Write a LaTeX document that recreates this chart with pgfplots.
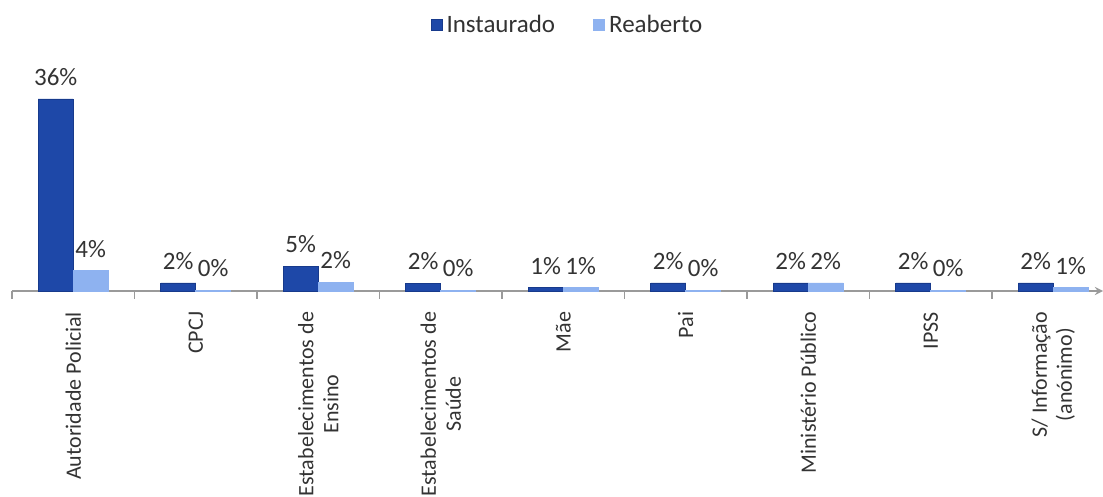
\documentclass[border=0pt]{standalone}
\usepackage{pgfplots}
\pgfplotsset{compat=1.18}
\usepackage{fontspec}
\setmainfont{Carlito}

\definecolor{inst}{HTML}{1E48A8}
\definecolor{instedge}{HTML}{173A8C}
\definecolor{reab}{HTML}{8EB2F0}
\definecolor{txt}{HTML}{333333}
\definecolor{axgray}{HTML}{9A9A9A}

\begin{document}
\begin{tikzpicture}
\begin{axis}[
  scale only axis,
  width=545.5pt, height=106.7pt,
  xmin=-0.5, xmax=8.406,
  ymin=0, ymax=40,
  axis x line=bottom,
  axis y line=none,
  x axis line style={axgray, line width=0.8pt},
  xtick={0,...,8},
  major x tick style={draw=none},
  minor xtick={-0.5,0.5,...,8.5},
  minor x tick style={axgray, line width=0.8pt},
  minor tick length=4pt,
  tick align=outside,
  xticklabels={
    Autoridade Policial,
    CPCJ,
    Estabelecimentos de\\Ensino,
    Estabelecimentos de\\Saúde,
    Mãe,
    Pai,
    Ministério Público,
    IPSS,
    S/ Informação\\(anónimo)},
  xticklabel style={rotate=90, anchor=east, align=center, font=\fontsize{11}{12.5}\selectfont, text=txt, inner sep=1pt},
  xticklabel shift=5pt,
  ybar, bar width=17.5pt, bar shift auto,
  ybar=0pt,
  point meta=explicit symbolic,
  nodes near coords,
  nodes near coords style={font=\fontsize{12.5}{14}\selectfont, text=txt, inner sep=2pt, yshift=4.5pt},
  legend columns=2,
  legend style={at={(0.51,1.247)}, anchor=center, draw=none, font=\fontsize{12.5}{14}\selectfont, text=txt,
    /tikz/every even column/.append style={column sep=17pt}},
  legend image code/.code={\fill[#1] (-1.5pt,-2.8pt) rectangle (4.1pt,2.8pt);},
  clip=false,
]
\addplot[fill=inst, draw=instedge, line width=0.4pt] coordinates {
  (0,36) [36\%] (1,1.5) [2\%] (2,4.6) [5\%] (3,1.4) [2\%] (4,0.6) [1\%]
  (5,1.5) [2\%] (6,1.5) [2\%] (7,1.5) [2\%] (8,1.5) [2\%]};
\addplot[fill=reab, draw=reab, line width=0.4pt] coordinates {
  (0,3.8) [4\%] (1,0.1) [0\%] (2,1.6) [2\%] (3,0.1) [0\%] (4,0.6) [1\%]
  (5,0.1) [0\%] (6,1.5) [2\%] (7,0.1) [0\%] (8,0.6) [1\%]};
\legend{Instaurado, Reaberto}
\end{axis}
\pgfresetboundingbox
\path (-6pt,-103pt) rectangle (545.5pt,145.5pt);
\end{tikzpicture}
\end{document}
